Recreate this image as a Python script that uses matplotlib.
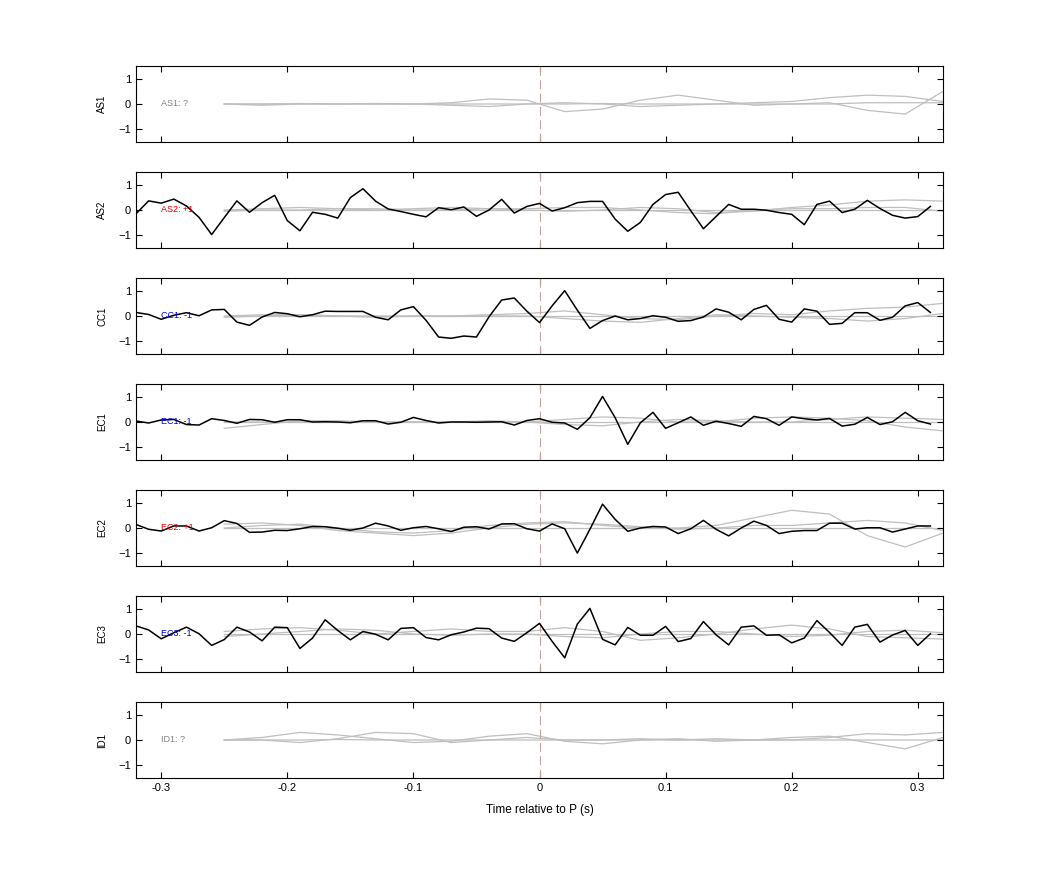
import numpy as np
import matplotlib
matplotlib.use("Agg")
import matplotlib.pyplot as plt

plt.rcParams['font.family'] = ['Liberation Sans', 'DejaVu Sans']

stations = ["AS1", "AS2", "CC1", "EC1", "EC2", "EC3", "ID1"]
polarity = ["?", "+1", "-1", "-1", "+1", "-1", "?"]
pol_colors = {"?": "#808080", "+1": "#e00000", "-1": "#0000d0"}

t_black = np.round(np.arange(-0.32, 0.315, 0.01), 2)

AS2 = [-0.15,0.36,0.27,0.43,0.16,-0.29,-0.97,-0.3,0.36,-0.09,0.29,0.58,-0.42,-0.82,-0.09,-0.17,
       -0.32,0.49,0.84,0.35,0.04,-0.06,-0.17,-0.27,0.09,0.01,0.12,-0.25,0.0,0.42,-0.12,0.14,0.26,
       -0.04,0.09,0.29,0.34,0.34,-0.36,-0.84,-0.49,0.22,0.61,0.7,-0.03,-0.74,-0.26,0.22,0.03,0.03,
       -0.01,-0.1,-0.17,-0.58,0.22,0.35,-0.1,0.03,0.38,0.06,-0.21,-0.32,-0.26,0.14]
CC1 = [0.14,0.06,-0.13,0.03,0.13,0.01,0.24,0.26,-0.24,-0.37,-0.04,0.14,0.09,-0.03,0.05,0.19,
       0.18,0.18,0.18,-0.05,-0.15,0.24,0.37,-0.17,-0.83,-0.88,-0.79,-0.83,-0.03,0.63,0.71,0.19,-0.26,
       0.4,1.0,0.23,-0.49,-0.18,0.0,-0.15,-0.1,0.01,-0.05,-0.21,-0.18,-0.04,0.28,0.15,-0.15,0.26,
       0.42,-0.13,-0.24,0.28,0.19,-0.33,-0.29,0.13,0.13,-0.17,-0.05,0.4,0.53,0.14]
EC1 = [0.04,-0.04,0.08,0.1,-0.1,-0.12,0.13,0.06,-0.05,0.1,0.09,-0.01,0.09,0.09,0.0,0.01,
       0.0,-0.03,0.05,0.05,-0.08,-0.01,0.18,0.06,-0.04,0.0,0.0,-0.01,0.0,0.01,-0.12,0.06,0.13,
       -0.01,-0.04,-0.29,0.17,1.01,0.17,-0.88,-0.03,0.38,-0.25,-0.03,0.2,-0.13,0.03,-0.06,-0.17,0.22,
       0.13,-0.13,0.2,0.13,0.08,0.14,-0.16,-0.09,0.18,-0.1,0.01,0.38,0.05,-0.08]
EC2 = [0.14,-0.05,-0.12,0.08,0.08,-0.12,0.01,0.29,0.18,-0.17,-0.16,-0.09,-0.1,-0.03,0.06,0.05,
       -0.01,-0.09,0.0,0.19,0.08,-0.09,0.01,0.06,-0.03,-0.14,0.03,0.05,-0.04,0.16,0.17,-0.03,-0.12,
       0.16,-0.03,-0.99,-0.05,0.94,0.34,-0.13,0.0,0.06,0.04,-0.22,-0.03,0.3,-0.05,-0.31,0.0,0.27,
       0.1,-0.22,-0.13,-0.1,-0.1,0.19,0.19,-0.04,0.01,0.01,-0.16,-0.04,0.08,0.08]
EC3 = [0.32,0.16,-0.19,0.05,0.27,0.01,-0.45,-0.22,0.27,0.08,-0.27,0.27,0.25,-0.57,-0.16,0.56,
       0.14,-0.23,0.1,-0.01,-0.23,0.22,0.25,-0.14,-0.23,-0.03,0.08,0.23,0.21,-0.16,-0.29,0.05,0.42,
       -0.29,-0.94,0.39,1.01,-0.21,-0.43,0.26,-0.05,-0.05,0.3,-0.3,-0.18,0.49,-0.03,-0.43,0.27,0.32,
       -0.05,-0.03,-0.35,-0.16,0.53,0.06,-0.45,0.27,0.38,-0.32,-0.04,0.14,-0.45,0.01]
black = {"AS2": AS2, "CC1": CC1, "EC1": EC1, "EC2": EC2, "EC3": EC3}

t_grey = np.round(np.arange(-0.25, 0.325, 0.03), 2)
grey = {
    "AS1": [[0,0,0,0,0,0,0.05,0.2,0.15,-0.3,-0.2,0.15,0.35,0.15,-0.05,0,0.05,-0.25,-0.4,0.5],
            [0,-0.05,0,0,0.02,0,-0.05,-0.1,0,0.05,0,-0.1,-0.05,0,0.05,0.1,0.25,0.35,0.3,0.1],
            [0,0,0.02,0,0,0,0,0,0,0,0.02,0,0,0,0,0,0,0.05,0.05,0.05]],
    "AS2": [[0,0.05,0.1,0.05,0,0.05,0.1,0.05,0,-0.05,0,0.1,0.05,-0.1,-0.05,0.1,0.2,0.35,0.4,0.35],
            [-0.05,0,0,0.05,0.05,0,0,0.05,0.05,0.1,0.1,0,-0.1,-0.15,0,0.05,0.05,0.1,0.1,-0.05],
            [0,0,0,0,0,0,0,0,0,0,0,0,0,0,0,0,0,0,0,0]],
    "CC1": [[0,0.05,0.05,0,0,0,0,0.05,0.1,0.2,0.05,-0.1,-0.15,0,0.1,0.05,0.2,0.3,0.35,0.5],
            [-0.05,0,0.05,0,-0.05,0,0,0,0,-0.1,-0.2,-0.25,-0.1,0.05,0,-0.05,-0.1,-0.2,-0.1,0.1],
            [0,0,0,0,0,0,0,0,0,0,0,0,0,0,0,0,0,0,0,0]],
    "EC1": [[-0.25,-0.1,0.05,0.05,0,0,0,0,0,0.1,0.2,0.15,0,0,0.15,0.2,0.15,0.05,-0.2,-0.35],
            [0,0,0,0,0,0,0,0.05,0,-0.1,-0.15,0,0.1,0.05,0,0,0.1,0.2,0.15,0.1],
            [0,0,0,0,0,0,0,0,0,0,0,0,0,0,0,0,0,0,0,0]],
    "EC2": [[0,0.1,0.15,0,-0.15,-0.2,-0.1,0.1,0.2,0.25,0.1,0,0,0.1,0.4,0.7,0.55,-0.3,-0.75,-0.2],
            [0.15,0.2,0.1,-0.1,-0.2,-0.3,-0.2,0,0.15,0.2,0.15,0.05,-0.05,0,0.1,0.1,0.2,0.3,0.2,-0.1],
            [0,0,0,0,0,0,0,0,0,0,0,0,0,0,0,0,0,0,0,0]],
    "EC3": [[0.1,0.2,0.25,0.15,0,0.1,0.2,0.1,0.1,0.25,0.1,-0.25,-0.15,0,0.2,0.35,0.2,-0.1,-0.15,-0.2],
            [-0.1,0,0.1,0.2,0.15,0,-0.05,0,0,-0.1,-0.15,0,0.1,0.1,0,-0.1,-0.05,0.1,0.15,0.05],
            [0,0,0,0,0,0,0,0,0,0,0,0,0,0,0,0,0,0,0,0]],
    "ID1": [[0,0.1,0.3,0.2,0.05,-0.1,-0.05,0.15,0.25,-0.05,-0.15,0,0.05,-0.05,0,0.1,0.15,-0.1,-0.35,0.1],
            [0,0,-0.1,0.05,0.3,0.25,-0.1,0,0.1,0,0,0.05,0,0.05,0,0,0.1,0.25,0.2,0.3],
            [0,0,0,0.02,0,0,0,0,0,0,0,0,0,0,0,0,0,0,0,0]],
}

fig = plt.figure(figsize=(10.42, 8.75), dpi=100)
W, H = 1042, 875
left, right = 136, 943
tops = [66, 172, 278, 384, 490, 596, 702]
ph = 76
for i, st in enumerate(stations):
    ax = fig.add_axes([left / W, 1 - (tops[i] + ph) / H, (right - left) / W, ph / H])
    for tr in grey[st]:
        ax.plot(t_grey, tr, color="#bfbfbf", lw=0.9, zorder=1)
    ax.axvline(0, color="#c8a0a0", lw=0.8, ls=(0, (8, 4)), zorder=2)
    if st in black:
        ax.plot(t_black, black[st], color="black", lw=1.1, zorder=3)
    ax.text(-0.3, 0, f"{st}: {polarity[i]}", color=pol_colors[polarity[i]],
            fontsize=6.5, va="center", ha="left", zorder=4)
    ax.set_xlim(-0.32, 0.32)
    ax.set_ylim(-1.5, 1.5)
    ax.set_yticks([-1, 0, 1])
    ax.set_xticks([-0.3, -0.2, -0.1, 0, 0.1, 0.2, 0.3])
    ax.tick_params(direction="in", top=True, right=True, labelsize=8, length=4)
    ax.set_ylabel(st, fontsize=7, labelpad=8)
    if i < len(stations) - 1:
        ax.set_xticklabels([])
    else:
        ax.set_xticklabels(["-0.3", "-0.2", "-0.1", "0", "0.1", "0.2", "0.3"])
        ax.set_xlabel("Time relative to P (s)", fontsize=8.5, labelpad=8)

fig.savefig("out.png", dpi=100)
